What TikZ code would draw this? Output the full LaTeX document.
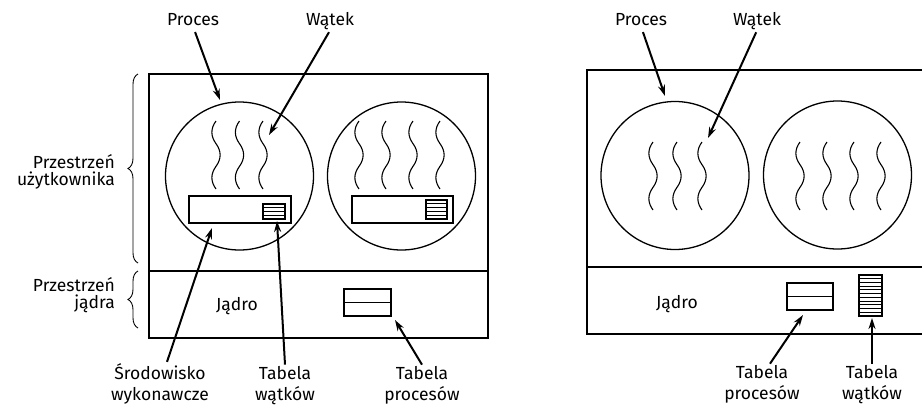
\documentclass[tikz,border=0pt]{standalone}
\usepackage{fontspec}
\setmainfont{Fira Sans}
\usetikzlibrary{arrows.meta,decorations.pathreplacing}
\tikzset{
  thread/.pic={\draw[line width=1.1pt]
    (0,0) .. controls (-5.5,7.5) and (-5.5,15.1) .. (0,22.67)
          .. controls (5.5,30.2) and (5.5,37.8) .. (0,45.33)
          .. controls (-5.5,52.9) and (-5.5,60.4) .. (0,68);}
}
\begin{document}
\begin{tikzpicture}[x=1pt,y=-1pt,
  frame/.style={line width=1.4pt},
  proc/.style={circle,draw,line width=1.3pt,minimum size=148pt,inner sep=0pt},
  panel/.style={draw,line width=1.3pt},
  rowline/.style={line width=0.9pt},
  lbl/.style={font=\fontsize{17.5}{17}\selectfont,inner sep=1pt},
  ptr/.style={line width=2pt,-{Stealth[length=11pt,width=7pt]}},
  curly/.style={decorate,decoration={brace,amplitude=10pt},line width=0.9pt}
]
\useasboundingbox (0,0) rectangle (922,405);

% ---------------- many-to-one: threads managed in user space ----------------
\draw[frame] (149,74) rectangle (488,338);
\draw[frame] (149,271) -- (488,271);

\node[proc] (pa) at (239.5,176) {};
\node[proc] (pb) at (401.5,176) {};

\foreach \tx in {216,239.5,263} \pic at (\tx,121) {thread};
\foreach \tx in {359,386,413,440} \pic at (\tx,121) {thread};

% run-time system with its private thread table
\draw[panel] (189,196) rectangle (291,223);
\draw[panel] (263,204) rectangle (285,219);
\foreach \k in {1,2,3} \draw[rowline] (263,{204+\k*15/4}) -- (285,{204+\k*15/4});
\draw[panel] (352,196) rectangle (453,223);
\draw[panel] (426,200) rectangle (447,219);
\foreach \k in {1,...,4} \draw[rowline] (426,{200+\k*19/5}) -- (447,{200+\k*19/5});

% process table in the kernel
\draw[panel] (344,289) rectangle (391,316);
\draw[rowline] (344,302.5) -- (391,302.5);

\node[lbl,anchor=base] at (237,310) {Jądro};

% braces on the left
\draw[curly] (138,263) -- (138,74);
\draw[curly] (138,328) -- (138,271);
\node[lbl,align=right,anchor=east] at (116,172) {Przestrzeń\\użytkownika};
\node[lbl,align=right,anchor=east] at (116,295) {Przestrzeń\\jądra};

% labels and pointers
\node[lbl,anchor=base] (lproc) at (193,25) {Proces};
\node[lbl,anchor=base] (lwat) at (330,25) {Wątek};
\coordinate (tproc) at (220,100);
\coordinate (twat) at (269,135);
\draw[ptr,shorten <=6pt] (lproc.south) -- (tproc);
\draw[ptr,shorten <=2pt] (lwat.south) -- (twat);

\node[lbl,anchor=base] (lsr) at (160,379) {Środowisko};
\node[lbl,anchor=base] at (160,400) {wykonawcze};
\node[lbl,anchor=base] (ltw) at (285,379) {Tabela};
\node[lbl,anchor=base] at (285,400) {wątków};
\node[lbl,anchor=base] (ltp) at (422,379) {Tabela};
\node[lbl,anchor=base] at (422,400) {procesów};
\coordinate (tsr) at (212,228);
\coordinate (ttw) at (277,221);
\coordinate (ttp) at (395,320);
\draw[ptr] ([xshift=7pt]lsr.north) -- (tsr);
\draw[ptr] (ltw.north) -- (ttw);
\draw[ptr] (ltp.north) -- (ttp);

% ---------------- one-to-one: threads managed by the kernel ----------------
\draw[frame] (930,70) -- (587,70) -- (587,334) -- (930,334);
\draw[frame] (587,267) -- (930,267);

\node[proc] (pc) at (675,175.5) {};
\node[proc] (pd) at (837.5,175) {};

\foreach \tx in {653,677,702} \pic at (\tx,142) {thread};
\foreach \tx in {800,827,854,881} \pic at (\tx,142) {thread};

\draw[panel] (787,283) rectangle (833,310);
\draw[rowline] (787,296.5) -- (833,296.5);
\draw[panel] (859,275) rectangle (882,316);
\foreach \k in {1,...,10} \draw[rowline] (859,{275+\k*41/11}) -- (882,{275+\k*41/11});

\node[lbl,anchor=base] at (677,308) {Jądro};

\node[lbl,anchor=base] (rproc) at (641,25) {Proces};
\node[lbl,anchor=base] (rwat) at (757,25) {Wątek};
\coordinate (uproc) at (665,96);
\coordinate (uwat) at (708,138);
\draw[ptr,shorten <=6pt] (rproc.south) -- (uproc);
\draw[ptr,shorten <=2pt] (rwat.south) -- (uwat);

\node[lbl,anchor=base] (rtp) at (762,378) {Tabela};
\node[lbl,anchor=base] at (762,399) {procesów};
\node[lbl,anchor=base] (rtw) at (872,378) {Tabela};
\node[lbl,anchor=base] at (872,399) {wątków};
\coordinate (utp) at (803,315);
\coordinate (utw) at (872,318);
\draw[ptr] ([xshift=8pt]rtp.north) -- (utp);
\draw[ptr] (rtw.north) -- (utw);
\end{tikzpicture}
\end{document}
